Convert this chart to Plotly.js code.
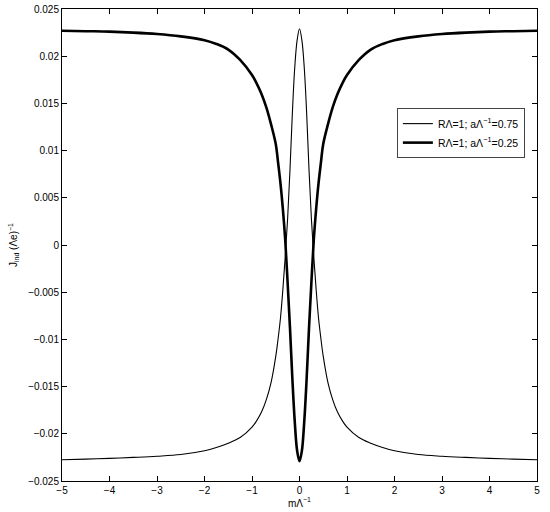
<!DOCTYPE html>
<html>
<head>
<meta charset="utf-8">
<script src="https://cdn.plot.ly/plotly-3.0.1.min.js"></script>
<style>html,body{margin:0;padding:0;background:#fff;}#plot{width:550px;height:512px;}</style>
</head>
<body>
<div id="plot"></div>
<script>
// m·Λ^-1 sample positions
var xVals = [-5, -4.5, -4, -3.5, -3, -2.5, -2, -1.75, -1.5, -1.25, -1, -0.9, -0.8, -0.7, -0.6, -0.5, -0.45, -0.4, -0.35, -0.3, -0.25, -0.2, -0.15, -0.1, -0.05, 0,
             0.05, 0.1, 0.15, 0.2, 0.25, 0.3, 0.35, 0.4, 0.45, 0.5, 0.6, 0.7, 0.8, 0.9, 1, 1.25, 1.5, 1.75, 2, 2.5, 3, 3.5, 4, 4.5, 5];

// RΛ=1; aΛ^-1=0.75 (thin line)
var jThin = [-0.02275, -0.02268, -0.0226, -0.0225, -0.02238, -0.0222, -0.0218, -0.02145, -0.0210, -0.0204, -0.0193, -0.0186, -0.0177, -0.0164, -0.0146, -0.0118, -0.0099, -0.0077, -0.0047, -0.0012, 0.0028, 0.0080, 0.0140, 0.0188, 0.0217, 0.0229,
             0.0217, 0.0188, 0.0140, 0.0080, 0.0028, -0.0012, -0.0047, -0.0077, -0.0099, -0.0118, -0.0146, -0.0164, -0.0177, -0.0186, -0.0193, -0.0204, -0.0210, -0.02145, -0.0218, -0.0222, -0.02238, -0.0225, -0.0226, -0.02268, -0.02275];

// RΛ=1; aΛ^-1=0.25 (thick line)
var jThick = [0.0227, 0.02265, 0.0226, 0.0225, 0.02235, 0.0221, 0.0217, 0.0213, 0.0207, 0.0196, 0.0180, 0.0171, 0.0160, 0.0146, 0.0128, 0.0107, 0.0087, 0.0065, 0.0038, 0.0005, -0.0040, -0.0088, -0.0142, -0.0187, -0.0218, -0.0229,
              -0.0218, -0.0187, -0.0142, -0.0088, -0.0040, 0.0005, 0.0038, 0.0065, 0.0087, 0.0107, 0.0128, 0.0146, 0.0160, 0.0171, 0.0180, 0.0196, 0.0207, 0.0213, 0.0217, 0.0221, 0.02235, 0.0225, 0.0226, 0.02265, 0.0227];

var seriesNames = ['R\u039B=1; a\u039B<sup>\u22121</sup>=0.75', 'R\u039B=1; a\u039B<sup>\u22121</sup>=0.25'];
var xTicks = [-5, -4, -3, -2, -1, 0, 1, 2, 3, 4, 5];
var yTicks = [-0.025, -0.02, -0.015, -0.01, -0.005, 0, 0.005, 0.01, 0.015, 0.02, 0.025];
var yTickText = ['\u22120.025', '\u22120.02', '\u22120.015', '\u22120.01', '\u22120.005', '0', '0.005', '0.01', '0.015', '0.02', '0.025'];

var traces = [
  {x: xVals, y: jThin, type: 'scatter', mode: 'lines', name: seriesNames[0],
   line: {color: '#000', width: 1.1, shape: 'spline', smoothing: 1}},
  {x: xVals, y: jThick, type: 'scatter', mode: 'lines', name: seriesNames[1],
   line: {color: '#000', width: 2.6, shape: 'spline', smoothing: 1}}
];

var fontFam = '"Liberation Sans", Arial, Helvetica, sans-serif';
var layout = {
  width: 550, height: 512,
  margin: {l: 62, r: 13, t: 9, b: 31, pad: 0},
  paper_bgcolor: '#fff', plot_bgcolor: '#fff',
  font: {family: fontFam, size: 10, color: '#000'},
  showlegend: true,
  legend: {x: 0.705, y: 0.79, xanchor: 'left', yanchor: 'top', bgcolor: '#fff',
           bordercolor: '#444', borderwidth: 1, font: {size: 10.5, family: fontFam},
           tracegroupgap: 0, itemwidth: 30},
  xaxis: {range: [-5, 5], tickvals: xTicks, ticks: 'inside', ticklen: 5, tickcolor: '#000',
          showline: true, linecolor: '#000', linewidth: 1, mirror: 'ticks', showgrid: false, zeroline: false,
          tickfont: {size: 10}, automargin: false,
          title: {text: 'm\u039B<sup>\u22121</sup>', font: {size: 10}, standoff: 4}},
  yaxis: {range: [-0.025, 0.025], tickvals: yTicks, ticktext: yTickText, ticks: 'inside', ticklen: 5, tickcolor: '#000',
          showline: true, linecolor: '#000', linewidth: 1, mirror: 'ticks', showgrid: false, zeroline: false,
          tickfont: {size: 10}, automargin: false,
          title: {text: 'J<sub>ind</sub> (\u039Be)<sup>\u22121</sup>', font: {size: 10}, standoff: 8}}
};

Plotly.newPlot('plot', traces, layout, {displayModeBar: false});
</script>
</body>
</html>
